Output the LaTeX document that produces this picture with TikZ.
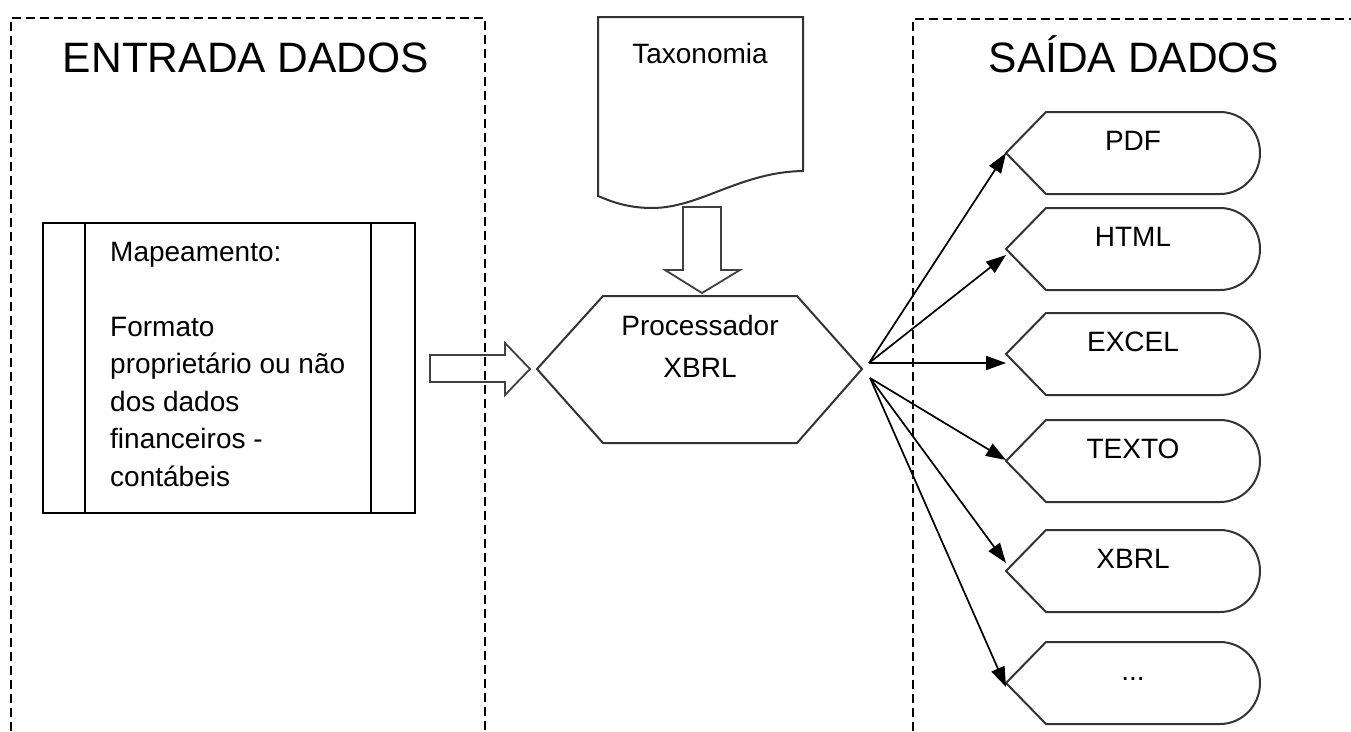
\documentclass[tikz,border=0pt]{standalone}
\usepackage{fontspec}
\setmainfont{Liberation Sans}
\usetikzlibrary{arrows.meta}
\newcommand\outshape[4]{% #1 name, #2 top y, #3 label, #4 arrow end y
  \draw[outline] (1006,#2+41) -- (1046,#2) -- (1220,#2)
    arc[start angle=-90,end angle=90,x radius=40,y radius=41]
    -- (1046,#2+82) -- cycle;
  \coordinate (#1) at (1006,#4);
  \node[lbl] (#1-t) at (1133,#2+38) {#3};
}
\begin{document}
\begin{tikzpicture}[x=1pt,y=-1pt,
  frame/.style={draw=black, line width=1.7pt, dash pattern=on 9pt off 5pt},
  outline/.style={draw=black!80, line width=2pt, line join=miter},
  blockarrow/.style={draw=black!75, line width=1.8pt},
  conn/.style={draw=black, line width=1.7pt, -{Triangle[length=20pt,width=14pt]}},
  title/.style={font=\fontsize{42.5}{50}\selectfont, anchor=base, inner sep=0pt},
  lbl/.style={font=\fontsize{28}{37.5}\selectfont, anchor=base, inner sep=0pt},
]
\useasboundingbox (0,0) rectangle (1351,731);
\fill[white] (0,0) rectangle (1351,731);

% frames
\draw[frame] (11,745) -- (11,18) -- (485,18) -- (485,745);
\draw[frame] (913,745) -- (913,19) -- (1365,19);
\node[title] (tin) at (246,72) {ENTRADA DADOS};
\node[title] (tout) at (1134,72) {SAÍDA DADOS};

% predefined process box
\node[draw=black, line width=2pt, minimum width=372pt, minimum height=290pt, inner sep=0pt] (map) at (229,368) {};
\draw[line width=2pt] ([xshift=43pt]map.north west) -- ([xshift=43pt]map.south west);
\draw[line width=2pt] ([xshift=-45pt]map.north east) -- ([xshift=-45pt]map.south east);
\node[lbl, anchor=north west, align=left] (maptext) at (110,242)
  {Mapeamento:\\[37.5pt]Formato\\propriet\'ario ou n\~ao\\dos dados\\financeiros -\\cont\'abeis};

% document (taxonomy)
\draw[outline] (598,17) -- (803,17) -- (803,171)
  .. controls (740,172) and (700,208) .. (652,208)
  .. controls (625,208) and (608,200) .. (598,196) -- cycle;
\node[lbl] (tax) at (700,63) {Taxonomia};

% down block arrow
\draw[blockarrow] (683,207) -- (721,207) -- (721,270) -- (740,270) -- (702,293) -- (665,270) -- (683,270) -- cycle;

% right block arrow
\draw[blockarrow] (430,355) -- (505,355) -- (505,343) -- (530,369) -- (505,395) -- (505,382) -- (430,382) -- cycle;

% hexagon
\coordinate (hexL) at (537,369);
\coordinate (hexR) at (862,369);
\draw[outline] (hexL) -- (603,296) -- (797,296) -- (hexR) -- (797,443) -- (603,443) -- cycle;
\node[lbl, anchor=north, align=center] (proc) at (700,315) {Processador\\[4.5pt]XBRL};

% outputs
\outshape{pdf}{112}{PDF}{153}
\outshape{html}{208}{HTML}{255}
\outshape{excel}{313}{EXCEL}{363}
\outshape{texto}{420}{TEXTO}{460}
\outshape{xbrl}{530}{XBRL}{563}
\outshape{etc}{642}{...}{687}

% connectors
\coordinate (o1) at (869,363);
\coordinate (o2) at (870,378);
\draw[conn] (o1) -- (pdf);
\draw[conn] (o1) -- (html);
\draw[conn] (o1) -- (excel);
\draw[conn] (o2) -- (texto);
\draw[conn] (o2) -- (xbrl);
\draw[conn] (o2) -- (etc);
\end{tikzpicture}
\end{document}
